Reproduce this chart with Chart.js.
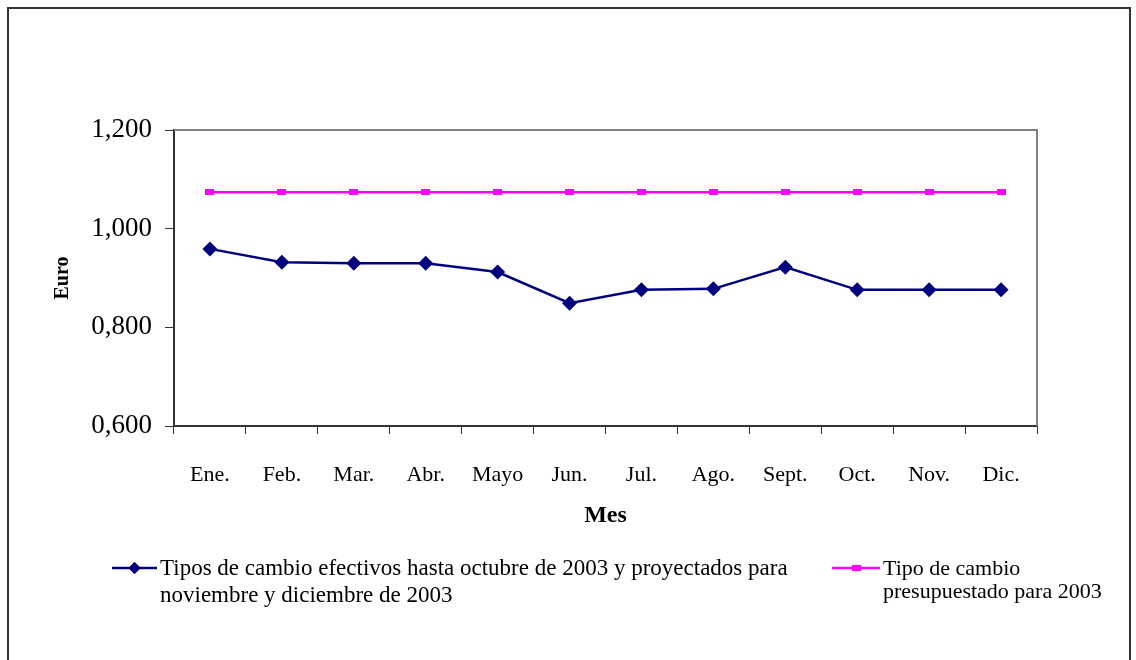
<!DOCTYPE html>
<html>
<head>
<meta charset="utf-8">
<script src="https://cdn.jsdelivr.net/npm/chart.js@4/dist/chart.umd.min.js"></script>
<style>
  html, body { margin: 0; padding: 0; background: #fff; }
  #wrap { position: absolute; left: 0; top: 0; width: 1136px; height: 660px; }
</style>
</head>
<body>
<div id="wrap"><canvas id="chart" width="1136" height="660"></canvas></div>
<script>
// Months (x axis categories)
const months = ['Ene.', 'Feb.', 'Mar.', 'Abr.', 'Mayo', 'Jun.', 'Jul.', 'Ago.', 'Sept.', 'Oct.', 'Nov.', 'Dic.'];

// Exchange rates
const efectivos = [0.959, 0.932, 0.930, 0.930, 0.912, 0.849, 0.876, 0.878, 0.922, 0.876, 0.876, 0.876];
const presupuestado = [1.074, 1.074, 1.074, 1.074, 1.074, 1.074, 1.074, 1.074, 1.074, 1.074, 1.074, 1.074];

const seriesLabels = [
  'Tipos de cambio efectivos hasta octubre de 2003 y proyectados para noviembre y diciembre de 2003',
  'Tipo de cambio presupuestado para 2003'
];
const yMin = 0.6, yMax = 1.2, yStep = 0.2;

const SERIF = '"Liberation Serif", "Times New Roman", serif';

// small flat rectangle marker for the budget series
function makeRectMarker(w, h, color) {
  const c = document.createElement('canvas');
  c.width = w; c.height = h;
  const g = c.getContext('2d');
  g.fillStyle = color;
  g.fillRect(0, 0, w, h);
  return c;
}
const pinkMarker = makeRectMarker(9, 6, '#ff00ff');

// frame around the whole picture + grey box around plot area
const framePlugin = {
  id: 'frame',
  beforeDatasetsDraw(chart) {
    const ctx = chart.ctx, a = chart.chartArea;
    ctx.save();
    ctx.strokeStyle = '#808080';
    ctx.lineWidth = 2;
    ctx.beginPath();
    ctx.moveTo(a.left, a.top);
    ctx.lineTo(a.right, a.top);
    ctx.lineTo(a.right, a.bottom);
    ctx.stroke();
    ctx.restore();
  },
  afterDraw(chart) {
    const ctx = chart.ctx;
    ctx.save();
    ctx.strokeStyle = '#333';
    ctx.lineWidth = 2;
    ctx.beginPath();
    ctx.moveTo(8, 670);
    ctx.lineTo(8, 8);
    ctx.lineTo(1130, 8);
    ctx.lineTo(1130, 670);
    ctx.stroke();
    ctx.restore();
  }
};

// legend drawn by hand so the long labels can wrap like the original
const legendPlugin = {
  id: 'manualLegend',
  afterDraw(chart) {
    const ctx = chart.ctx;
    const items = [
      { x: 112, lineLen: 45, y: 568, size: 23, gap: 27, lines: ['Tipos de cambio efectivos hasta octubre de 2003 y proyectados para', 'noviembre y diciembre de 2003'], ds: 0 },
      { x: 832, lineLen: 48, y: 568, size: 22, gap: 23, lines: ['Tipo de cambio', 'presupuestado para 2003'], ds: 1 }
    ];
    ctx.save();
    items.forEach(it => {
      const ds = chart.data.datasets[it.ds];
      ctx.strokeStyle = ds.borderColor;
      ctx.lineWidth = 2.5;
      ctx.beginPath();
      ctx.moveTo(it.x, it.y);
      ctx.lineTo(it.x + it.lineLen, it.y);
      ctx.stroke();
      const mx = it.x + it.lineLen / 2;
      if (it.ds === 0) {
        Chart.helpers.drawPoint(ctx, { pointStyle: 'rectRot', radius: 6, borderWidth: 0 }, mx, it.y);
        ctx.fillStyle = ds.backgroundColor;
        ctx.fill();
      } else {
        ctx.drawImage(pinkMarker, mx - 4.5, it.y - 3);
      }
      ctx.fillStyle = '#000';
      ctx.font = it.size + 'px ' + SERIF;
      ctx.textBaseline = 'middle';
      ctx.textAlign = 'left';
      it.lines.forEach((t, i) => ctx.fillText(t, it.x + it.lineLen + 3, it.y + 1 + i * it.gap));
    });
    ctx.restore();
  }
};

new Chart(document.getElementById('chart'), {
  type: 'line',
  data: {
    labels: months,
    datasets: [
      {
        label: seriesLabels[0],
        data: efectivos,
        borderColor: '#000080',
        backgroundColor: '#000080',
        borderWidth: 2.5,
        pointStyle: 'rectRot',
        pointRadius: 7.5,
        pointBorderWidth: 0,
        tension: 0
      },
      {
        label: seriesLabels[1],
        data: presupuestado,
        borderColor: '#ff00ff',
        backgroundColor: '#ff00ff',
        borderWidth: 2.5,
        pointStyle: pinkMarker,
        pointRadius: 4,
        tension: 0
      }
    ]
  },
  options: {
    responsive: false,
    animation: false,
    layout: { padding: { left: 0, top: 130, right: 99, bottom: 0 } },
    plugins: {
      legend: { display: false },
      tooltip: { enabled: false }
    },
    scales: {
      x: {
        type: 'category',
        offset: true,
        grid: { offset: true, drawOnChartArea: false, tickLength: 8, color: '#333', lineWidth: 1 },
        border: { display: true, color: '#333', width: 2 },
        ticks: { color: '#000', font: { family: SERIF, size: 22 }, padding: 28, maxRotation: 0, autoSkip: false },
        title: { display: true, text: 'Mes', color: '#000', font: { family: SERIF, size: 24, weight: 'bold' }, padding: { top: 0, bottom: 130 } },
        afterFit(scale) { scale.height = 234; }
      },
      y: {
        min: yMin,
        max: yMax,
        grid: { drawOnChartArea: false, tickLength: 9, color: '#333', lineWidth: 1 },
        border: { display: true, color: '#333', width: 2 },
        ticks: {
          stepSize: yStep,
          color: '#000',
          font: { family: SERIF, size: 27 },
          padding: 13,
          callback: v => v.toFixed(3).replace('.', ',')
        },
        title: { display: true, text: 'Euro', color: '#000', font: { family: SERIF, size: 20, weight: 'bold' }, padding: { top: 51, bottom: 0 } },
        afterFit(scale) { scale.width = 174; }
      }
    }
  },
  plugins: [framePlugin, legendPlugin]
});
</script>
</body>
</html>
